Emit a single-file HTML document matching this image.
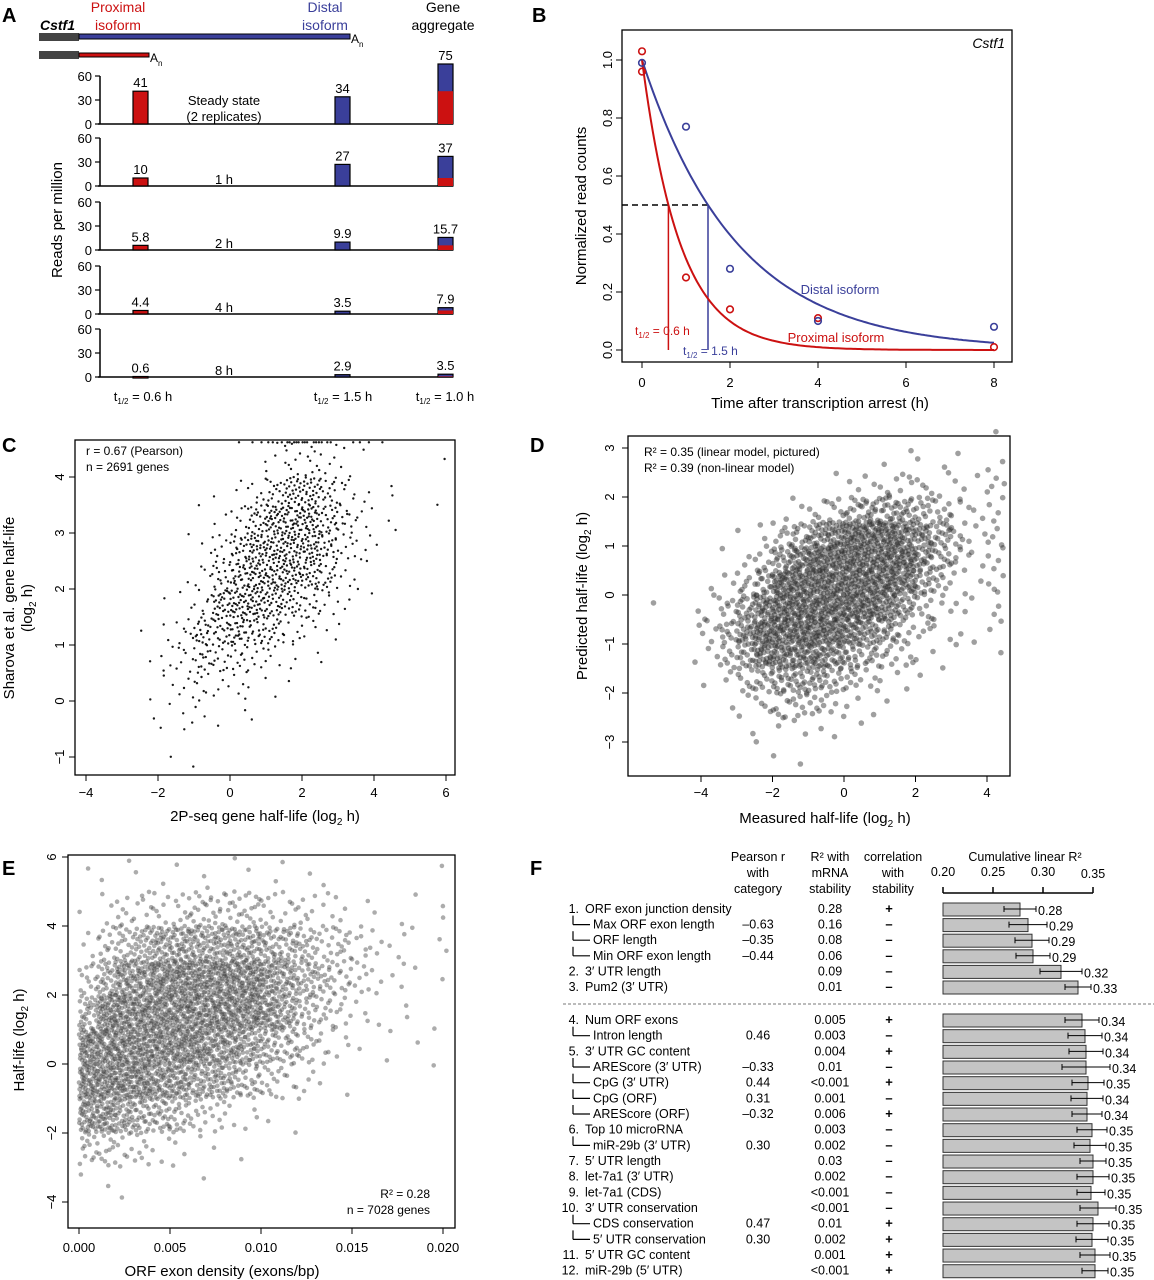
<!DOCTYPE html>
<html><head><meta charset="utf-8"><style>
html,body{margin:0;padding:0;background:#fff}
svg{display:block;font-family:"Liberation Sans",Arial,sans-serif}
</style></head><body>
<svg id="fig" width="1154" height="1280" viewBox="0 0 1154 1280" xmlns="http://www.w3.org/2000/svg">
<g font-weight="bold" font-size="20">
<text x="2" y="22">A</text>
<text x="532" y="22">B</text>
<text x="2" y="452">C</text>
<text x="530" y="452">D</text>
<text x="2" y="875">E</text>
<text x="530" y="875">F</text>
</g>
<g id="A"></g>
<g id="B"></g>
<g id="C"></g>
<g id="D"></g>
<g id="E"></g>
<g id="F"></g>
</svg>
<script>
// ---------- Panel A data ----------
const aTimes = ["Steady state", "1 h", "2 h", "4 h", "8 h"];
const aProximal = [41, 10, 5.8, 4.4, 0.6];
const aDistal = [34, 27, 9.9, 3.5, 2.9];
const aAggregateLabels = ["75", "37", "15.7", "7.9", "3.5"];
const aTicks = [0, 30, 60];
// ---------- Panel B data ----------
const bDistalT = [0, 1, 2, 4, 8];
const bDistalV = [0.99, 0.77, 0.28, 0.10, 0.08];
const bProxT = [0, 0, 1, 2, 4, 8];
const bProxV = [1.03, 0.96, 0.25, 0.14, 0.11, 0.01];
const bHalfDistal = 1.5;
const bHalfProx = 0.6;
const bXTicks = [0, 2, 4, 6, 8];
const bYTicks = [0, 0.2, 0.4, 0.6, 0.8, 1.0];
// ---------- Panel C data (density grid, rows top->bottom, y from 5 to -1.5 step 0.5; cols x -4..6 step 0.5) ----------
const cDensity = [
"00000000123443221000",
"00000000012443210001",
"00000001246886421101",
"00000012479997531100",
"00000124799997431000",
"00000136899986320000",
"00001248998754210000",
"00012477876432100000",
"00013465543211000000",
"00012343321100000000",
"00012221110000000000",
"00001100000000000000",
"00000100000000000000"];
const cXTicks = [-4, -2, 0, 2, 4, 6];
const cYTicks = [-1, 0, 1, 2, 3, 4];
// ---------- Panel D data (rows y 3.5 -> -3.5 step 0.5; cols x -6..4.5 step 0.5) ----------
const dDensity = [
"000000000000000000001",
"000000000000001111102",
"000000000001223332213",
"000000001234566654323",
"000000124578999876423",
"000001246899999975423",
"000012469999999864213",
"010124689999998643212",
"000135799999876432112",
"000124688887654321101",
"000012456665432110000",
"000001234443211000000",
"000000112211100000000",
"000000001100000000000"];
const dXTicks = [-4, -2, 0, 2, 4];
const dYTicks = [-3, -2, -1, 0, 1, 2, 3];
// ---------- Panel E data (rows y 6 -> -4 step 1; cols x 0..0.021 step 0.001) ----------
const eDensity = [
"111111111111110000010",
"123333444433322111111",
"245677777766544322111",
"468899999987654322110",
"699999999987543211110",
"999999988765432111100",
"999988776543211000010",
"887665432211100000000",
"443322111000000000000",
"111000100000000000000"];
const eXTicks = [0, 0.005, 0.010, 0.015, 0.020];
const eXTickLabels = ["0.000", "0.005", "0.010", "0.015", "0.020"];
const eYTicks = [-4, -2, 0, 2, 4, 6];
// ---------- Panel F data ----------
const fLabels = ["ORF exon junction density","Max ORF exon length","ORF length","Min ORF exon length","3\u2032 UTR length","Pum2 (3\u2032 UTR)",
"Num ORF exons","Intron length","3\u2032 UTR GC content","AREScore (3\u2032 UTR)","CpG (3\u2032 UTR)","CpG (ORF)","AREScore (ORF)","Top 10 microRNA","miR-29b (3\u2032 UTR)","5\u2032 UTR length","let-7a1 (3\u2032 UTR)","let-7a1 (CDS)","3\u2032 UTR conservation","CDS conservation","5\u2032 UTR conservation","5\u2032 UTR GC content","miR-29b (5\u2032 UTR)"];
const fNumbers = ["1.","","","","2.","3.","4.","","5.","","","","","6.","","7.","8.","9.","10.","","","11.","12."];
const fPearson = ["","\u20130.63","\u20130.35","\u20130.44","","","","0.46","","\u20130.33","0.44","0.31","\u20130.32","","0.30","","","","","0.47","0.30","",""];
const fR2 = ["0.28","0.16","0.08","0.06","0.09","0.01","0.005","0.003","0.004","0.01","<0.001","0.001","0.006","0.003","0.002","0.03","0.002","<0.001","<0.001","0.01","0.002","0.001","<0.001"];
const fSign = ["+","\u2013","\u2013","\u2013","\u2013","\u2013","+","\u2013","+","\u2013","+","\u2013","+","\u2013","\u2013","\u2013","\u2013","\u2013","\u2013","+","+","+","+"];
const fCum = [0.277,0.285,0.289,0.29,0.318,0.335,0.339,0.342,0.343,0.343,0.345,0.344,0.344,0.349,0.347,0.35,0.35,0.348,0.355,0.35,0.349,0.352,0.352];
const fErr = [0.016,0.019,0.017,0.017,0.021,0.013,0.017,0.017,0.017,0.024,0.016,0.016,0.015,0.015,0.016,0.013,0.016,0.014,0.018,0.016,0.016,0.015,0.013];
const fCumLabels = ["0.28","0.29","0.29","0.29","0.32","0.33","0.34","0.34","0.34","0.34","0.35","0.34","0.34","0.35","0.35","0.35","0.35","0.35","0.35","0.35","0.35","0.35","0.35"];
const fSub = [0,1,1,1,0,0,0,1,0,1,1,1,1,0,1,0,0,0,0,1,1,0,0];
const fXTicks = [0.20, 0.25, 0.30, 0.35];

const NS = "http://www.w3.org/2000/svg";
function mk(parent, tag, attrs, text) {
  const e = document.createElementNS(NS, tag);
  for (const k in attrs) e.setAttribute(k, attrs[k]);
  if (text !== undefined) e.textContent = text;
  parent.appendChild(e);
  return e;
}
function halton(i, b) { let f = 1, r = 0; while (i > 0) { f /= b; r += f * (i % b); i = Math.floor(i / b); } return r; }

// ================= Panel A =================
(function () {
  const g = document.getElementById("A");
  const hdr = [["Proximal",118,12,"#cc1111"],["isoform",118,30,"#cc1111"],["Distal",325,12,"#3a3f9a"],["isoform",325,30,"#3a3f9a"],["Gene",443,12,"#000"],["aggregate",443,30,"#000"]];
  hdr.forEach(h => { const t = mk(g, "text", {x:h[1], y:h[2], "text-anchor":"middle", "font-size":14, fill:h[3]}, h[0]);
      });
  let t = mk(g, "text", {x:40, y:30, "font-size":14, "font-style":"italic", "font-weight":"bold"}, "Cstf1");
   
  let r = mk(g, "rect", {x:39, y:33, width:40, height:8, fill:"#444"});
   
  r = mk(g, "rect", {x:79, y:34, width:271, height:5, fill:"#3a3f9a", stroke:"#000", "stroke-width":1});
   
  r = mk(g, "rect", {x:39, y:51, width:40, height:8, fill:"#444"});
   
  r = mk(g, "rect", {x:79, y:53, width:70, height:4, fill:"#cc1111", stroke:"#000", "stroke-width":1});
   
  t = mk(g, "text", {x:351, y:43, "font-size":12}, "A"); mk(t, "tspan", {dy:4, "font-size":8}, "n");
   
  t = mk(g, "text", {x:150, y:62, "font-size":12}, "A"); mk(t, "tspan", {dy:4, "font-size":8}, "n");
   

  const bases = [124, 186, 250, 314, 377];
  const pxPer = 48 / 60;
  const xs = [133, 335, 438], bw = 15;
  bases.forEach((b, i) => {
    const sg = mk(g, "g", {});
     
    mk(sg, "line", {x1:100, y1:b - 60 * pxPer, x2:100, y2:b, stroke:"#000", "stroke-width":1.5});
    mk(sg, "line", {x1:98, y1:b, x2:453, y2:b, stroke:"#000", "stroke-width":1.5});
    aTicks.forEach(v => {
      const y = b - v * pxPer;
      mk(sg, "line", {x1:95, y1:y, x2:100, y2:y, stroke:"#000", "stroke-width":1.2});
      const tl = mk(sg, "text", {x:92, y:y + 5, "text-anchor":"end", "font-size":13}, String(v));
       
    });
    const p = aProximal[i], d = aDistal[i];
    let bar = mk(sg, "rect", {x:xs[0], y:b - p * pxPer, width:bw, height:Math.max(p * pxPer, 1.5), fill:"#cc1111", stroke:"#000", "stroke-width":1.2});
     
    bar = mk(sg, "rect", {x:xs[1], y:b - d * pxPer, width:bw, height:Math.max(d * pxPer, 1.5), fill:"#3a3f9a", stroke:"#000", "stroke-width":1.2});
     
    bar = mk(sg, "rect", {x:xs[2], y:b - (p + d) * pxPer, width:bw, height:Math.max((p + d) * pxPer, 1.5), fill:"#3a3f9a", stroke:"#000", "stroke-width":1.2});
     
    bar = mk(sg, "rect", {x:xs[2], y:b - p * pxPer, width:bw, height:Math.max(p * pxPer, 0.5), fill:"#cc1111", stroke:"none"});
     
    const labs = [String(p), String(d), aAggregateLabels[i]];
    const hs = [p, d, p + d];
    labs.forEach((l, k) => {
      const tl = mk(sg, "text", {x:xs[k] + bw / 2, y:b - hs[k] * pxPer - 4, "text-anchor":"middle", "font-size":13}, l);
       
    });
    if (i === 0) {
      let tl = mk(sg, "text", {x:224, y:105, "text-anchor":"middle", "font-size":13}, "Steady state");
       
      tl = mk(sg, "text", {x:224, y:121, "text-anchor":"middle", "font-size":13}, "(2 replicates)");
       
    } else {
      const tl = mk(sg, "text", {x:224, y:b - 2, "text-anchor":"middle", "font-size":13}, aTimes[i]);
       
    }
  });
  t = mk(g, "text", {transform:"translate(62,220) rotate(-90)", "text-anchor":"middle", "font-size":15}, "Reads per million");
   
  [["0.6 h",143],["1.5 h",343],["1.0 h",445]].forEach(h => {
    const tt = mk(g, "text", {x:h[1], y:401, "text-anchor":"middle", "font-size":13});
    mk(tt, "tspan", {}, "t"); mk(tt, "tspan", {dy:3, "font-size":8}, "1/2"); mk(tt, "tspan", {dy:-3}, " = " + h[0]);
     
  });
})();

// ================= Panel B =================
(function () {
  const g = document.getElementById("B");
  const xB = v => 642 + v * 44, yB = v => 350 - v * 290;
  let r = mk(g, "rect", {x:622, y:30, width:390, height:332, fill:"none", stroke:"#000", "stroke-width":1.3});
   
  bXTicks.forEach(v => {
    mk(g, "line", {x1:xB(v), y1:362, x2:xB(v), y2:368, stroke:"#000"});
    const t = mk(g, "text", {x:xB(v), y:387, "text-anchor":"middle", "font-size":13}, String(v));
     
  });
  bYTicks.forEach(v => {
    mk(g, "line", {x1:616, y1:yB(v), x2:622, y2:yB(v), stroke:"#000"});
    const t = mk(g, "text", {transform:`translate(612,${yB(v)}) rotate(-90)`, "text-anchor":"middle", "font-size":13}, v.toFixed(1));
     
  });
  let t = mk(g, "text", {transform:"translate(586,206) rotate(-90)", "text-anchor":"middle", "font-size":15}, "Normalized read counts");
   
  t = mk(g, "text", {x:820, y:408, "text-anchor":"middle", "font-size":15}, "Time after transcription arrest (h)");
   
  t = mk(g, "text", {x:1005, y:48, "text-anchor":"end", "font-size":14, "font-style":"italic"}, "Cstf1");
   
  let l = mk(g, "line", {x1:622, y1:yB(0.5), x2:xB(bHalfDistal), y2:yB(0.5), stroke:"#000", "stroke-width":1.5, "stroke-dasharray":"6,4"});
   
  l = mk(g, "line", {x1:xB(bHalfProx), y1:yB(0.5), x2:xB(bHalfProx), y2:yB(0), stroke:"#cc1111", "stroke-width":1.5});
   
  l = mk(g, "line", {x1:xB(bHalfDistal), y1:yB(0.5), x2:xB(bHalfDistal), y2:yB(0), stroke:"#3a3f9a", "stroke-width":1.5});
   
  function curve(th, col, name) {
    let d = "";
    for (let i = 0; i <= 160; i++) { const tt = i * 8 / 160; const v = Math.pow(0.5, tt / th); d += (i ? "L" : "M") + xB(tt).toFixed(1) + "," + yB(v).toFixed(1); }
    const p = mk(g, "path", {d, fill:"none", stroke:col, "stroke-width":2});
     
  }
  curve(bHalfDistal, "#3a3f9a", "distal-fit-curve");
  curve(bHalfProx, "#cc1111", "proximal-fit-curve");
  bProxT.forEach((tt, i) => {
    const c = mk(g, "circle", {cx:xB(tt), cy:yB(bProxV[i]), r:3.3, fill:"none", stroke:"#cc1111", "stroke-width":1.6});
     
  });
  bDistalT.forEach((tt, i) => {
    const c = mk(g, "circle", {cx:xB(tt), cy:yB(bDistalV[i]), r:3.3, fill:"none", stroke:"#3a3f9a", "stroke-width":1.6});
     
  });
  t = mk(g, "text", {x:840, y:294, "text-anchor":"middle", "font-size":13, fill:"#3a3f9a"}, "Distal isoform");
   
  t = mk(g, "text", {x:836, y:342, "text-anchor":"middle", "font-size":13, fill:"#cc1111"}, "Proximal isoform");
   
  [[635,335,"#cc1111","0.6 h"],[683,355,"#3a3f9a","1.5 h"]].forEach(h => {
    const tt = mk(g, "text", {x:h[0], y:h[1], "font-size":12, fill:h[2]});
    mk(tt, "tspan", {}, "t"); mk(tt, "tspan", {dy:3, "font-size":8}, "1/2"); mk(tt, "tspan", {dy:-3}, " = " + h[3]);
     
  });
})();

// ---------- scatter helper ----------
function scatterGrid(g, grid, x0, xStep, yTop, yStep, xf, yf, k, rad, fill, op, name) {
  let idx = 1;
  const pg = mk(g, "g", {fill:fill, "fill-opacity":op});
   
  grid.forEach((row, ri) => {
    for (let ci = 0; ci < row.length; ci++) {
      const d = parseInt(row[ci], 10);
      const n = d > 0 ? Math.max(1, Math.round(d * d * k)) : 0;
      for (let j = 0; j < n; j++) {
        const vx = x0 + (ci + halton(idx, 2)) * xStep;
        const vy = yTop - (ri + halton(idx, 3)) * yStep;
        idx++;
        const c = mk(pg, "circle", {cx:xf(vx).toFixed(1), cy:yf(vy).toFixed(1), r:rad});
        
        
      }
    }
  });
}
function frameAxes(g, x1, y1, x2, y2) {
  const r = mk(g, "rect", {x:x1, y:y1, width:x2 - x1, height:y2 - y1, fill:"none", stroke:"#000", "stroke-width":1.3});
   
}

// ================= Panel C =================
(function () {
  const g = document.getElementById("C");
  const xC = v => 230 + v * 36, yC = v => 701 - v * 56;
  scatterGrid(g, cDensity, -4, 0.5, 5, 0.5, xC, v => yC(Math.min(v, 4.62)), 0.42, 1.2, "#000", 0.9, "gene-half-life");
  frameAxes(g, 75, 440, 455, 775);
  cXTicks.forEach(v => {
    mk(g, "line", {x1:xC(v), y1:775, x2:xC(v), y2:781, stroke:"#000"});
    const t = mk(g, "text", {x:xC(v), y:797, "text-anchor":"middle", "font-size":13}, v < 0 ? "\u2212" + (-v) : String(v));
     
  });
  cYTicks.forEach(v => {
    mk(g, "line", {x1:69, y1:yC(v), x2:75, y2:yC(v), stroke:"#000"});
    const t = mk(g, "text", {transform:`translate(64,${yC(v)}) rotate(-90)`, "text-anchor":"middle", "font-size":13}, v < 0 ? "\u2212" + (-v) : String(v));
     
  });
  let t = mk(g, "text", {x:86, y:455, "font-size":12}, "r = 0.67 (Pearson)");
   
  t = mk(g, "text", {x:86, y:471, "font-size":12}, "n = 2691 genes");
   
  t = mk(g, "text", {transform:"translate(14,608) rotate(-90)", "text-anchor":"middle", "font-size":15}, "Sharova et al. gene half-life");
   
  t = mk(g, "text", {transform:"translate(32,608) rotate(-90)", "text-anchor":"middle", "font-size":15});
  mk(t, "tspan", {}, "(log"); mk(t, "tspan", {dy:4, "font-size":10}, "2"); mk(t, "tspan", {dy:-4}, " h)");
   
  t = mk(g, "text", {x:265, y:821, "text-anchor":"middle", "font-size":15});
  mk(t, "tspan", {}, "2P-seq gene half-life (log"); mk(t, "tspan", {dy:4, "font-size":10}, "2"); mk(t, "tspan", {dy:-4}, " h)");
   
})();

// ================= Panel D =================
(function () {
  const g = document.getElementById("D");
  const xD = v => 844 + v * 35.75, yD = v => 595 - v * 49;
  scatterGrid(g, dDensity, -6, 0.5, 3.5, 0.5, xD, yD, 0.45, 2.8, "#2a2a2a", 0.45, "predicted-half-life");
  frameAxes(g, 628, 436, 1010, 776);
  dXTicks.forEach(v => {
    mk(g, "line", {x1:xD(v), y1:776, x2:xD(v), y2:782, stroke:"#000"});
    const t = mk(g, "text", {x:xD(v), y:797, "text-anchor":"middle", "font-size":13}, v < 0 ? "\u2212" + (-v) : String(v));
     
  });
  dYTicks.forEach(v => {
    mk(g, "line", {x1:622, y1:yD(v), x2:628, y2:yD(v), stroke:"#000"});
    const t = mk(g, "text", {transform:`translate(614,${yD(v)}) rotate(-90)`, "text-anchor":"middle", "font-size":13}, v < 0 ? "\u2212" + (-v) : String(v));
     
  });
  let t = mk(g, "text", {x:644, y:456, "font-size":12}, "R\u00b2 = 0.35 (linear model, pictured)");
   
  t = mk(g, "text", {x:644, y:472, "font-size":12}, "R\u00b2 = 0.39 (non-linear model)");
   
  t = mk(g, "text", {transform:"translate(587,596) rotate(-90)", "text-anchor":"middle", "font-size":15});
  mk(t, "tspan", {}, "Predicted half-life (log"); mk(t, "tspan", {dy:4, "font-size":10}, "2"); mk(t, "tspan", {dy:-4}, " h)");
   
  t = mk(g, "text", {x:825, y:823, "text-anchor":"middle", "font-size":15});
  mk(t, "tspan", {}, "Measured half-life (log"); mk(t, "tspan", {dy:4, "font-size":10}, "2"); mk(t, "tspan", {dy:-4}, " h)");
   
})();

// ================= Panel E =================
(function () {
  const g = document.getElementById("E");
  const xE = v => 79 + v * 18200, yE = v => 1064 - v * 34.5;
  scatterGrid(g, eDensity, 0, 0.001, 6, 1, xE, yE, 0.75, 2.3, "#3a3a3a", 0.42, "exon-density");
  frameAxes(g, 68, 855, 455, 1228);
  eXTicks.forEach((v, i) => {
    mk(g, "line", {x1:xE(v), y1:1228, x2:xE(v), y2:1234, stroke:"#000"});
    const t = mk(g, "text", {x:xE(v), y:1252, "text-anchor":"middle", "font-size":13}, eXTickLabels[i]);
     
  });
  eYTicks.forEach(v => {
    mk(g, "line", {x1:62, y1:yE(v), x2:68, y2:yE(v), stroke:"#000"});
    const t = mk(g, "text", {transform:`translate(56,${yE(v)}) rotate(-90)`, "text-anchor":"middle", "font-size":13}, v < 0 ? "\u2212" + (-v) : String(v));
     
  });
  let t = mk(g, "text", {x:430, y:1198, "text-anchor":"end", "font-size":12}, "R\u00b2 = 0.28");
   
  t = mk(g, "text", {x:430, y:1214, "text-anchor":"end", "font-size":12}, "n = 7028 genes");
   
  t = mk(g, "text", {transform:"translate(24,1040) rotate(-90)", "text-anchor":"middle", "font-size":15});
  mk(t, "tspan", {}, "Half-life (log"); mk(t, "tspan", {dy:4, "font-size":10}, "2"); mk(t, "tspan", {dy:-4}, " h)");
   
  t = mk(g, "text", {x:222, y:1276, "text-anchor":"middle", "font-size":15}, "ORF exon density (exons/bp)");
   
})();

// ================= Panel F =================
(function () {
  const g = document.getElementById("F");
  const xF = v => 943 + (v - 0.2) * 1000;
  const rowY = i => i < 6 ? 909 + i * 15.6 : 1020 + (i - 6) * 15.67;
  const heads = [[758,["Pearson r","with","category"]],[830,["R\u00b2 with","mRNA","stability"]],[893,["correlation","with","stability"]]];
  heads.forEach(h => h[1].forEach((s, k) => {
    const t = mk(g, "text", {x:h[0], y:861 + k * 16, "text-anchor":"middle", "font-size":12.5}, s);
     
  }));
  let t = mk(g, "text", {x:1025, y:861, "text-anchor":"middle", "font-size":12.5}, "Cumulative linear R\u00b2");
   
  mk(g, "line", {x1:xF(0.2), y1:893, x2:xF(0.35), y2:893, stroke:"#000", "stroke-width":1.5});
  fXTicks.forEach(v => {
    mk(g, "line", {x1:xF(v), y1:887, x2:xF(v), y2:893, stroke:"#000", "stroke-width":1.5});
    const tt = mk(g, "text", {x:xF(v), y:v > 0.34 ? 878 : 876, "text-anchor":"middle", "font-size":12.5}, v.toFixed(2));
     
  });
  const dl = mk(g, "line", {x1:563, y1:1004, x2:1154, y2:1004, stroke:"#777", "stroke-width":1, "stroke-dasharray":"3,2"});
   
  fLabels.forEach((lab, i) => {
    const y = rowY(i);
    const rg = mk(g, "g", {});
     
    if (fNumbers[i]) {
      const n = mk(rg, "text", {x:579, y:y + 4, "text-anchor":"end", "font-size":12.5}, fNumbers[i]);
       
    }
    if (fSub[i]) {
      mk(rg, "line", {x1:573, y1:y - 9, x2:573, y2:y, stroke:"#000", "stroke-width":1.2});
      mk(rg, "line", {x1:573, y1:y, x2:590, y2:y, stroke:"#000", "stroke-width":1.2});
    }
    const lt = mk(rg, "text", {x:fSub[i] ? 593 : 585, y:y + 4, "font-size":12.5}, lab);
     
    if (fPearson[i]) {
      const pt = mk(rg, "text", {x:758, y:y + 4, "text-anchor":"middle", "font-size":12.5}, fPearson[i]);
       
    }
    const rt = mk(rg, "text", {x:830, y:y + 4, "text-anchor":"middle", "font-size":12.5}, fR2[i]);
     
    const st = mk(rg, "text", {x:889, y:y + 4, "text-anchor":"middle", "font-size":13, "font-weight":"bold"}, fSign[i]);
     
    const bar = mk(rg, "rect", {x:xF(0.2), y:y - 6, width:xF(fCum[i]) - xF(0.2), height:13, fill:"#c4c4c4", stroke:"#333", "stroke-width":1});
     
    const lo = xF(fCum[i] - fErr[i]), hi = xF(fCum[i] + fErr[i]);
    const eb = mk(rg, "path", {d:`M${lo},${y}H${hi}M${lo},${y - 3}V${y + 3}M${hi},${y - 3}V${y + 3}`, stroke:"#000", "stroke-width":1, fill:"none"});
     
    const vt = mk(rg, "text", {x:hi + 2, y:y + 6, "font-size":12.5}, fCumLabels[i]);
     
  });
})();
</script>
</body></html>
